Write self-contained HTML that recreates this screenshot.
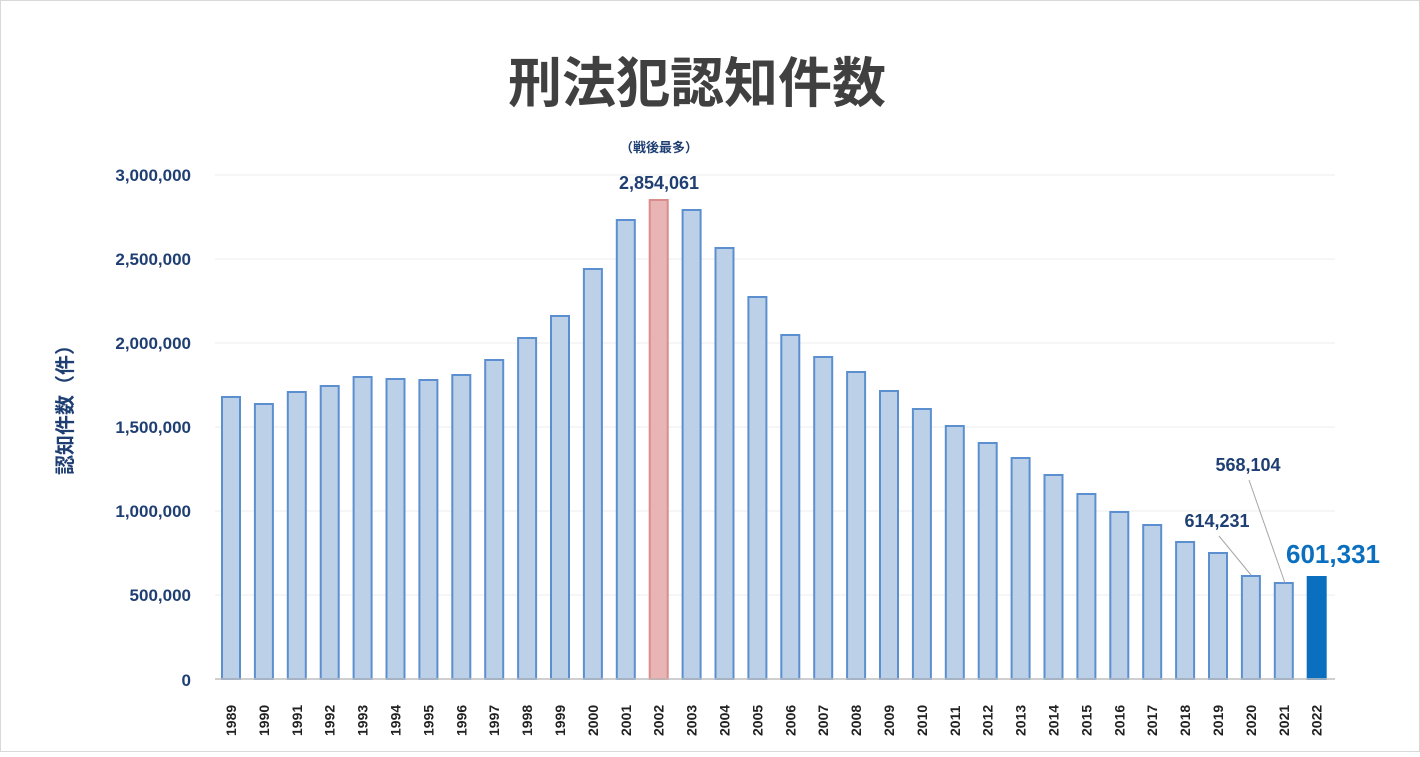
<!DOCTYPE html><html><head><meta charset="utf-8"><style>
body{margin:0;background:#fff}
svg text{font-family:"Liberation Sans","Noto Sans CJK JP",sans-serif}
</style></head><body>
<svg width="1420" height="752" xmlns="http://www.w3.org/2000/svg">
<rect x="0.5" y="0.5" width="1419" height="751" fill="#fff" stroke="#d9d9d9"/>
<text x="697" y="102" font-size="54" font-weight="bold" fill="#404040" text-anchor="middle" font-family="Noto Sans CJK JP,sans-serif">刑法犯認知件数</text>
<g stroke="#eeeeee" stroke-width="1">
<line x1="215" x2="1335" y1="175" y2="175"/><line x1="215" x2="1335" y1="259" y2="259"/><line x1="215" x2="1335" y1="343" y2="343"/><line x1="215" x2="1335" y1="427" y2="427"/><line x1="215" x2="1335" y1="511" y2="511"/><line x1="215" x2="1335" y1="595" y2="595"/>
</g>
<g font-size="17" font-weight="bold" fill="#1f3f73" text-anchor="end">
<text x="191" y="181">3,000,000</text><text x="191" y="265">2,500,000</text><text x="191" y="349">2,000,000</text><text x="191" y="433">1,500,000</text><text x="191" y="517">1,000,000</text><text x="191" y="601">500,000</text><text x="191" y="686">0</text>
</g>
<text transform="translate(72,405) rotate(-90)" font-size="20" font-weight="bold" fill="#1f3f73" text-anchor="middle" font-family="Noto Sans CJK JP,sans-serif">認知件数（件）</text>
<g id="bars"></g>
<line x1="215" x2="1335" y1="679" y2="679" stroke="#bfbfbf" stroke-width="1.5"/>
<g id="yrs" font-size="14" font-weight="bold" fill="#222"></g>
<text x="659" y="152" font-size="13" font-weight="bold" fill="#1f3f73" text-anchor="middle" font-family="Noto Sans CJK JP,sans-serif">（戦後最多）</text>
<text x="659" y="189" font-size="18" font-weight="bold" fill="#1f3f73" text-anchor="middle">2,854,061</text>
<text x="1217" y="527" font-size="18" font-weight="bold" fill="#1f3f73" text-anchor="middle">614,231</text>
<text x="1248" y="471" font-size="18" font-weight="bold" fill="#1f3f73" text-anchor="middle">568,104</text>
<text x="1333" y="563" font-size="26" font-weight="bold" fill="#0b6fc0" text-anchor="middle">601,331</text>
<line x1="1219" y1="536" x2="1251" y2="575" stroke="#a6a6a6"/>
<line x1="1249" y1="480" x2="1285" y2="583" stroke="#a6a6a6"/>
</svg>
<script>
var tops=[397,404,392,386,377,379,380,375,360,338,316,269,220,200,210,248,297,335,357,372,391,409,426,443,458,475,494,512,525,542,553,576,583,577];
var b=document.getElementById('bars'),y=document.getElementById('yrs'),h='';
var yh='';
for(var i=0;i<34;i++){var x=221+i*32.9;var t=tops[i];
var fill='#bcd0e8',st='#5b8fd0';if(i==13){fill='#e8b4b4';st='#d98c8c';}if(i==33){fill='#0b6fc0';st='#0b6fc0';}
h+='<rect x="'+(x+1)+'" y="'+t+'" width="18" height="'+(679-t)+'" fill="'+fill+'" stroke="'+st+'" stroke-width="2"/>';
yh+='<text transform="translate('+(x+15)+',736) rotate(-90)">'+(1989+i)+'</text>';}
b.innerHTML=h;y.innerHTML=yh;
</script>
</body></html>
